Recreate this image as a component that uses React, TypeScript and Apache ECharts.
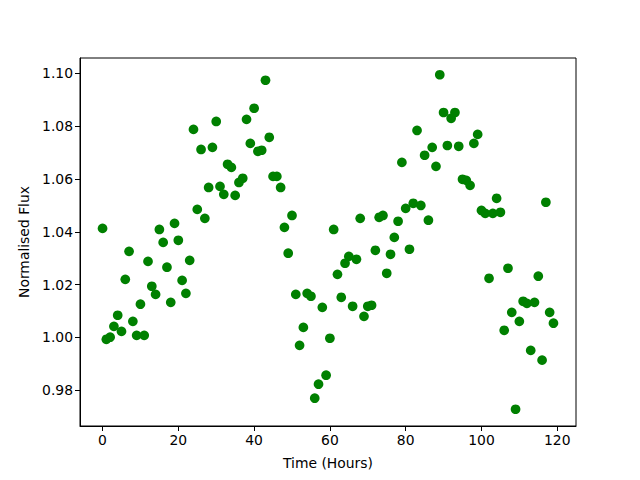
import React, { useEffect, useRef } from "react";
import * as echarts from "echarts";

const hours: number[] = Array.from({ length: 120 }, (_, i) => i);
const flux: number[] = [
  1.0413, 0.9993, 1.0001, 1.0042, 1.0084, 1.0023, 1.022, 1.0326, 1.0061, 1.0008,
  1.0126, 1.0008, 1.0288, 1.0194, 1.0163, 1.0409, 1.036, 1.0266, 1.0133, 1.0432,
  1.0368, 1.0216, 1.0167, 1.0292, 1.0788, 1.0485, 1.0712, 1.0451, 1.0568, 1.072,
  1.0818, 1.0572, 1.0542, 1.0656, 1.0644, 1.0538, 1.0587, 1.0603, 1.0826, 1.0735,
  1.0868, 1.0705, 1.0709, 1.0974, 1.0758, 1.061, 1.061, 1.0568, 1.0417, 1.0319,
  1.0462, 1.0163, 0.997, 1.0038, 1.0167, 1.0156, 0.977, 0.9823, 1.0114, 0.9857,
  0.9997, 1.0409, 1.0239, 1.0152, 1.0281, 1.0307, 1.0118, 1.0296, 1.0451, 1.008,
  1.0118, 1.0122, 1.033, 1.0455, 1.0462, 1.0243, 1.0315, 1.0379, 1.044, 1.0663,
  1.0489, 1.0334, 1.0508, 1.0784, 1.05, 1.069, 1.0444, 1.072, 1.0648, 1.0995,
  1.0852, 1.0727, 1.083, 1.0852, 1.0724, 1.0599, 1.0595, 1.0576, 1.0735, 1.0769,
  1.0481, 1.047, 1.0224, 1.047, 1.0527, 1.0474, 1.0027, 1.0262, 1.0095, 0.9728,
  1.0061, 1.0137, 1.0129, 0.9951, 1.0133, 1.0232, 0.9914, 1.0512, 1.0095, 1.0054,
];
const xTicks: number[] = [0, 20, 40, 60, 80, 100, 120];
const yTicks: number[] = [0.98, 1.0, 1.02, 1.04, 1.06, 1.08, 1.1];

export default function App() {
  const ref = useRef<HTMLDivElement>(null);
  useEffect(() => {
    if (!ref.current) return;
    const chart = echarts.init(ref.current, undefined, { renderer: "svg" });
    const font = "DejaVu Sans";
    const xMin = Math.min(...hours), xMax = Math.max(...hours);
    const yMin = Math.min(...flux), yMax = Math.max(...flux);
    const xPad = (xMax - xMin) * 0.05, yPad = (yMax - yMin) * 0.05;
    chart.setOption({
      animation: false,
      backgroundColor: "#ffffff",
      grid: { left: 80, right: 64, top: 58, bottom: 54, show: true, borderColor: "#000", borderWidth: 1, backgroundColor: "transparent" },
      xAxis: {
        type: "value",
        min: xMin - xPad,
        max: xMax + xPad,
        name: "Time (Hours)",
        nameLocation: "middle",
        nameGap: 30,
        nameTextStyle: { fontFamily: font, fontSize: 13.9, color: "#000" },
        splitLine: { show: false },
        axisLine: { show: true, onZero: false, lineStyle: { color: "#000", width: 1 } },
        axisTick: { show: true, length: 5, lineStyle: { color: "#000" }, customValues: xTicks },
        axisLabel: { customValues: xTicks, fontFamily: font, fontSize: 13.9, color: "#000", margin: 7, formatter: (v: number) => String(v) },
      },
      yAxis: {
        type: "value",
        min: yMin - yPad,
        max: yMax + yPad,
        name: "Normalised Flux",
        nameLocation: "middle",
        nameGap: 47,
        nameTextStyle: { fontFamily: font, fontSize: 13.9, color: "#000" },
        splitLine: { show: false },
        axisLine: { show: true, onZero: false, lineStyle: { color: "#000", width: 1 } },
        axisTick: { show: true, length: 5, lineStyle: { color: "#000" }, customValues: yTicks },
        axisLabel: { customValues: yTicks, fontFamily: font, fontSize: 13.9, color: "#000", margin: 7, formatter: (v: number) => v.toFixed(2) },
      },
      series: [
        {
          type: "scatter",
          data: hours.map((h, i) => [h, flux[i]]),
          symbol: "circle",
          symbolSize: 9.7,
          itemStyle: { color: "#008000", opacity: 1 },
        },
      ],
    });
    return () => chart.dispose();
  }, []);
  return <div ref={ref} style={{ width: 640, height: 480, position: "absolute", left: 0, top: 0 }} />;
}
